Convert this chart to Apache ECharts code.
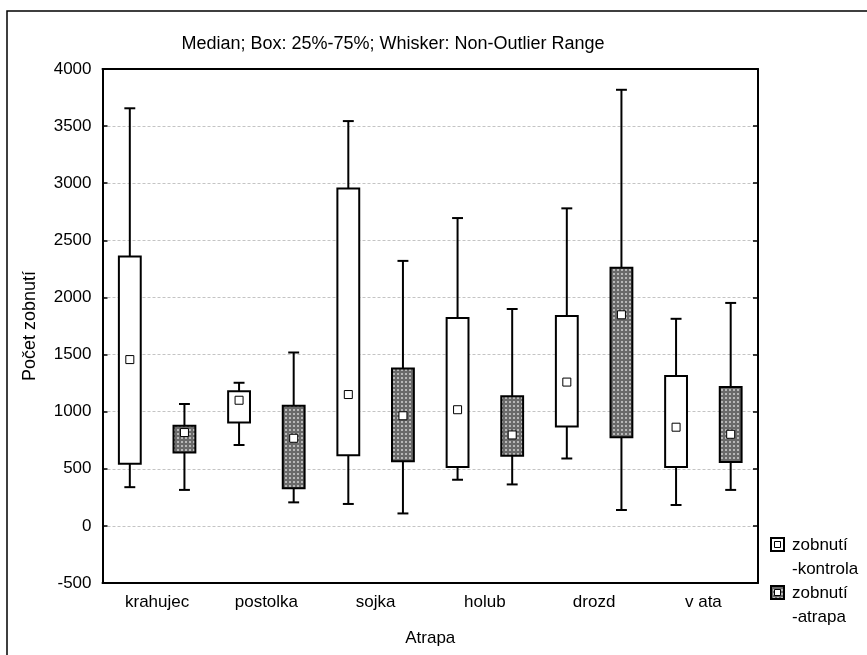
<!DOCTYPE html>
<html>
<head>
<meta charset="utf-8">
<script src="https://cdn.jsdelivr.net/npm/echarts@6/dist/echarts.min.js"></script>
<style>
html,body{margin:0;padding:0;background:#fff;}
#chart{width:867px;height:655px;}
</style>
</head>
<body>
<div id="chart"></div>
<script>
const categories = ['krahujec', 'postolka', 'sojka', 'holub', 'drozd', 'v ata'];
const yTicks = { min: -500, max: 4000, interval: 500 };

const kontrolaMin    = [339, 708, 192, 404, 590, 183];
const kontrolaQ1     = [545, 905, 619, 516, 870, 516];
const kontrolaMedian = [1456, 1100, 1150, 1017, 1259, 864];
const kontrolaQ3     = [2358, 1179, 2954, 1819, 1837, 1312];
const kontrolaMax    = [3656, 1253, 3544, 2695, 2780, 1813];

const atrapaMin    = [315, 206, 109, 363, 139, 315];
const atrapaQ1     = [643, 330, 566, 613, 775, 560];
const atrapaMedian = [817, 767, 964, 796, 1848, 802];
const atrapaQ3     = [876, 1052, 1377, 1135, 2261, 1215];
const atrapaMax    = [1067, 1518, 2320, 1899, 3818, 1952];

const seriesNames = ['zobnutí\n-kontrola', 'zobnutí\n-atrapa'];
const titleText = 'Median; Box: 25%-75%; Whisker: Non-Outlier Range';
const yName = 'Počet zobnutí';
const xName = 'Atrapa';

const FONT = "'Liberation Sans', Arial, sans-serif";

// dotted gray pattern
const pat = document.createElement('canvas');
pat.width = 4; pat.height = 4;
const pc = pat.getContext('2d');
pc.fillStyle = '#6a6a6a';
pc.fillRect(0, 0, 4, 4);
pc.fillStyle = '#b8b8b8';
pc.fillRect(1, 1, 2, 2);
const patternFill = { image: pat, repeat: 'repeat' };

function build(mins, q1, med, q3, maxs) {
  return categories.map((c, i) => [i, mins[i], q1[i], med[i], q3[i], maxs[i]]);
}

function makeRender(offset, fill) {
  return function (params, api) {
    const cat = api.value(0);
    const band = api.size([1, 0])[0];
    const cx = api.coord([cat, 0])[0] + offset * band;
    const yMin = api.coord([cat, api.value(1)])[1];
    const yQ1 = api.coord([cat, api.value(2)])[1];
    const yMed = api.coord([cat, api.value(3)])[1];
    const yQ3 = api.coord([cat, api.value(4)])[1];
    const yMax = api.coord([cat, api.value(5)])[1];
    const bw = band * 0.2;
    const cw = band * 0.1;
    const ls = { stroke: '#000', lineWidth: 2 };
    return {
      type: 'group',
      children: [
        { type: 'line', shape: { x1: cx, y1: yMax, x2: cx, y2: yQ3 }, style: ls },
        { type: 'line', shape: { x1: cx, y1: yQ1, x2: cx, y2: yMin }, style: ls },
        { type: 'line', shape: { x1: cx - cw / 2, y1: yMax, x2: cx + cw / 2, y2: yMax }, style: ls },
        { type: 'line', shape: { x1: cx - cw / 2, y1: yMin, x2: cx + cw / 2, y2: yMin }, style: ls },
        { type: 'rect', shape: { x: cx - bw / 2, y: yQ3, width: bw, height: yQ1 - yQ3 },
          style: { fill: fill, stroke: '#000', lineWidth: 2 } },
        { type: 'rect', shape: { x: cx - 4, y: yMed - 4, width: 8, height: 8 },
          style: { fill: '#fff', stroke: '#000', lineWidth: 1 } }
      ]
    };
  };
}

const chart = echarts.init(document.getElementById('chart'), null, { renderer: 'canvas' });

const textStyle = { fontFamily: FONT, fontSize: 17, color: '#000' };

const option = {
  backgroundColor: '#fff',
  animation: false,
  title: {
    text: titleText,
    left: 393,
    top: 35,
    textAlign: 'center',
    padding: 0,
    textStyle: { fontFamily: FONT, fontSize: 18, fontWeight: 'normal', color: '#000' }
  },
  grid: { left: 102.5, right: 109, top: 69, bottom: 72, containLabel: false },
  xAxis: [
    {
      type: 'category', data: categories, position: 'bottom',
      name: xName, nameLocation: 'middle', nameGap: 47,
      nameTextStyle: textStyle,
      axisLine: { onZero: false, lineStyle: { color: '#000', width: 2 } },
      axisTick: { inside: true, alignWithLabel: true, length: 5, lineStyle: { color: '#000', width: 2 } },
      axisLabel: { margin: 11, fontFamily: FONT, fontSize: 17, color: '#000' },
      splitLine: { show: false }
    },
    {
      type: 'category', data: categories, position: 'top',
      axisLine: { onZero: false, lineStyle: { color: '#000', width: 2 } },
      axisTick: { inside: true, alignWithLabel: true, length: 5, lineStyle: { color: '#000', width: 2 } },
      axisLabel: { show: false },
      splitLine: { show: false }
    }
  ],
  yAxis: [
    {
      type: 'value', min: yTicks.min, max: yTicks.max, interval: yTicks.interval, position: 'left',
      name: yName, nameLocation: 'middle', nameGap: 63,
      nameTextStyle: { fontFamily: FONT, fontSize: 18, color: '#000' },
      axisLine: { show: true, onZero: false, lineStyle: { color: '#000', width: 2 } },
      axisTick: { show: true, inside: true, length: 5, lineStyle: { color: '#000', width: 1.5 } },
      axisLabel: { margin: 11, fontFamily: FONT, fontSize: 17, color: '#000', formatter: (v) => String(v) },
      splitLine: { show: true, lineStyle: { color: '#c4c4c4', width: 1, type: [3, 2] } }
    },
    {
      type: 'value', min: yTicks.min, max: yTicks.max, interval: yTicks.interval, position: 'right',
      axisLine: { show: true, onZero: false, lineStyle: { color: '#000', width: 2 } },
      axisTick: { show: true, inside: true, length: 5, lineStyle: { color: '#000', width: 1.5 } },
      axisLabel: { show: false },
      splitLine: { show: false }
    }
  ],
  series: [
    {
      name: seriesNames[0], type: 'custom', xAxisIndex: 0, yAxisIndex: 0,
      renderItem: makeRender(-0.25, '#fff'),
      encode: { x: 0, y: [1, 2, 3, 4, 5] },
      data: build(kontrolaMin, kontrolaQ1, kontrolaMedian, kontrolaQ3, kontrolaMax),
      z: 3
    },
    {
      name: seriesNames[1], type: 'custom', xAxisIndex: 0, yAxisIndex: 0,
      renderItem: makeRender(0.25, patternFill),
      encode: { x: 0, y: [1, 2, 3, 4, 5] },
      data: build(atrapaMin, atrapaQ1, atrapaMedian, atrapaQ3, atrapaMax),
      z: 3
    }
  ],
  graphic: [
    { type: 'rect', shape: { x: 7, y: 11, width: 900, height: 700 }, style: { fill: 'none', stroke: '#000', lineWidth: 1.5 }, z: 0, silent: true },
    // legend item 1
    { type: 'rect', shape: { x: 771, y: 538, width: 13, height: 13 }, style: { fill: '#fff', stroke: '#000', lineWidth: 2 } },
    { type: 'rect', shape: { x: 774.5, y: 541.5, width: 6, height: 6 }, style: { fill: '#fff', stroke: '#000', lineWidth: 1 } },
    { type: 'text', x: 792, y: 545, style: { text: 'zobnutí', font: "17px 'Liberation Sans', Arial, sans-serif", fill: '#000', textVerticalAlign: 'middle', verticalAlign: 'middle' } },
    { type: 'text', x: 792, y: 569, style: { text: '-kontrola', font: "17px 'Liberation Sans', Arial, sans-serif", fill: '#000', textVerticalAlign: 'middle', verticalAlign: 'middle' } },
    // legend item 2
    { type: 'rect', shape: { x: 771, y: 586, width: 13, height: 13 }, style: { fill: patternFill, stroke: '#000', lineWidth: 2 } },
    { type: 'rect', shape: { x: 774.5, y: 589.5, width: 6, height: 6 }, style: { fill: '#fff', stroke: '#000', lineWidth: 1 } },
    { type: 'text', x: 792, y: 593, style: { text: 'zobnutí', font: "17px 'Liberation Sans', Arial, sans-serif", fill: '#000', textVerticalAlign: 'middle', verticalAlign: 'middle' } },
    { type: 'text', x: 792, y: 617, style: { text: '-atrapa', font: "17px 'Liberation Sans', Arial, sans-serif", fill: '#000', textVerticalAlign: 'middle', verticalAlign: 'middle' } }
  ]
};

chart.setOption(option);
</script>
</body>
</html>
